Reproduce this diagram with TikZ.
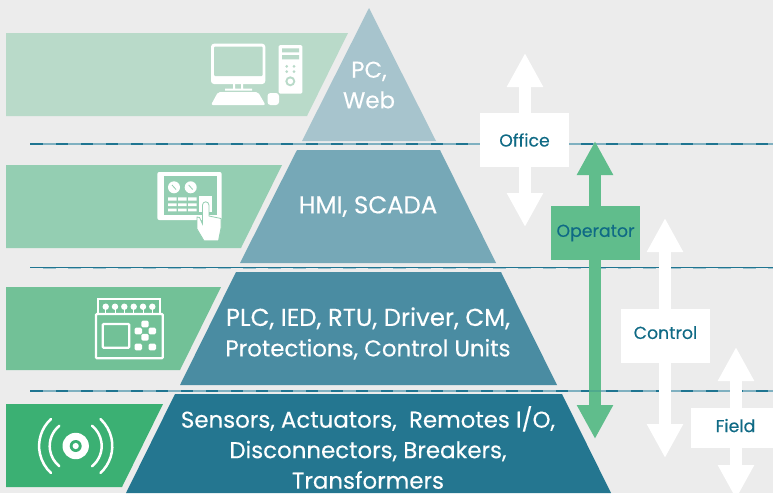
\documentclass[tikz,border=0pt]{standalone}
\usepackage{fontspec}
\usepackage{xcolor}
\usetikzlibrary{arrows.meta}
\setmainfont{Poppins}[FakeBold=0.25]
\definecolor{paper}{HTML}{ECECEC}
\definecolor{bandA}{HTML}{B9DAC9}
\definecolor{bandB}{HTML}{94CEB2}
\definecolor{bandC}{HTML}{72C197}
\definecolor{bandD}{HTML}{3BB073}
\definecolor{pyrA}{HTML}{A7C4CD}
\definecolor{pyrB}{HTML}{76A8B7}
\definecolor{pyrC}{HTML}{4A8CA2}
\definecolor{pyrD}{HTML}{247690}
\definecolor{lineDark}{HTML}{1F7591}
\definecolor{lineLight}{HTML}{7FB0C0}
\definecolor{opGreen}{HTML}{60BD8C}
\definecolor{tagText}{HTML}{0F6A85}
\newcommand{\capsline}[1]{{\fontsize{24.4}{30.5}\selectfont #1}}
\begin{document}
\begin{tikzpicture}[x=1pt,y=-1pt,
  level/.style={white,align=center,inner sep=0pt,font=\fontsize{22.9}{30.5}\selectfont},
  tag/.style={fill=white,text=tagText,minimum width=89pt,minimum height=54pt,inner sep=0pt,font=\fontsize{17.3}{20}\selectfont},
  updown/.style={line width=12pt,{Triangle[length=34pt,width=34pt]}-{Triangle[length=34pt,width=34pt]}}]
\useasboundingbox (0,0) rectangle (773,493);
\fill [paper] (0,0) rectangle (773,493);
\clip (0,0) rectangle (773,493);
% bands on the left
\fill [bandA] (6,33) -- (348,33) -- (307,116) -- (6,116) -- cycle;
\fill [bandB] (6,165) -- (282,165) -- (241,248) -- (6,248) -- cycle;
\fill [bandC] (6,287) -- (221,287) -- (180,370) -- (6,370) -- cycle;
\fill [bandD] (6,404) -- (163,404) -- (122,487) -- (6,487) -- cycle;
% pyramid
\fill [pyrA] (369,8) -- (436,141) -- (302,141) -- cycle;
\fill [pyrB] (297,150) -- (440,150) -- (496,263) -- (240,263) -- cycle;
\fill [pyrC] (236,272) -- (501,272) -- (557,385) -- (180,385) -- cycle;
\fill [pyrD] (175,394) -- (562,394) -- (611,493) -- (126,493) -- cycle;
% separators
\foreach \ypos in {144,391}{
  \draw [lineDark,line width=1.6pt] (30,\ypos) -- (773,\ypos);
  \draw [lineLight,line width=1.6pt,dash pattern=on 13pt off 12pt] (43,\ypos) -- (773,\ypos);
}
\draw [lineLight!70!paper,line width=1pt,dash pattern=on 13pt off 12pt] (43,268) -- (773,268);
\draw [lineDark,line width=1pt] (30,267) -- (773,267);
% level texts
\node [level] (pc) at (369,85) {PC,\\Web};
\node [level] (hmi) at (368,206.5) {\capsline{HMI, SCADA}};
\node [level] (plc) at (368,333.5) {\capsline{PLC, IED, RTU, Driver, CM,}\\Protections, Control Units};
\node [level] (sensors) at (368,447.5) {Sensors, Actuators,\ \ Remotes I/O,\\Disconnectors, Breakers,\\Transformers};
% arrows
\coordinate (officeT) at (525,53);
\coordinate (officeB) at (525,227);
\coordinate (operT) at (595,141);
\coordinate (operB) at (595,439);
\coordinate (controlT) at (665,218);
\coordinate (controlB) at (665,458);
\coordinate (fieldT) at (736,347);
\coordinate (fieldB) at (736,499);
\draw [updown,white] (officeT) -- (officeB);
\draw [updown,opGreen] (operT) -- (operB);
\draw [lineDark,opacity=0.25,line width=1.6pt] (589,391) -- (601,391);
\draw [updown,white] (controlT) -- (controlB);
\draw [updown,white] (fieldT) -- (fieldB);
\node [tag] (office) at (524.5,140) {Office};
\node [tag,fill=opGreen] (operator) at (595.5,233) {Operator};
\node [tag] (control) at (665.5,336) {\raisebox{7pt}{Control}};
\node [tag,minimum height=40pt] (field) at (735.5,428) {\raisebox{5pt}{Field}};
% computer icon
\fill [white,rounded corners=3pt] (211,43.7) rectangle (265.3,84);
\fill [bandA,rounded corners=1pt] (214,46.7) rectangle (262.7,76);
\fill [white] (233,84) rectangle (235,89) (241,84) rectangle (243,89) (225,88.5) rectangle (252,90.7);
\fill [white,rounded corners=2pt] (218,92) -- (258,92) -- (265.5,105) -- (211,105) -- cycle;
\fill [white,rounded corners=3pt] (267.5,93) rectangle (279,105);
\fill [white,rounded corners=1.5pt] (278.5,45) rectangle (302.3,93.7);
\fill [bandA] (282,48.3) rectangle (299,52.3) (282,55) rectangle (299,59.3);
\foreach \xpos/\ypos in {286.7/66.3,294/66.3,286.7/71.7,294/71.7}
  \fill [bandA] (\xpos,\ypos) circle (1.5);
\fill [bandA] (290.3,81.3) circle (5);
\fill [white] (290.3,81.3) circle (2.8);
% panel icon
\fill [white,rounded corners=2pt] (157.3,172) rectangle (221.7,220);
\fill [bandB] (164,176) rectangle (217,215.3);
\fill [white] (174,187.3) circle (6) (190.7,187.3) circle (6);
\draw [bandB,line width=0.8pt] (172,185) -- (176,189.5) (188.7,185) -- (192.7,189.5);
\foreach \ypos/\ytop in {197.3/200.7,203.3/206,208.7/211.3}
  \fill [white] (168,\ypos) rectangle (176.7,\ytop) (178,\ypos) rectangle (186.7,\ytop) (188,\ypos) rectangle (196.7,\ytop);
\fill [white] (199.3,196) rectangle (211.7,212);
\fill [white,draw=bandB,line width=0.8pt] (202.5,205) arc[start angle=180,end angle=0,radius=3.2pt] -- (208.9,216) -- (221,218.5) -- (221,228) -- (218.5,240.8) -- (204,240.8) -- (197,229) -- (197,217) -- (199.5,217.5) -- (202.5,224) -- cycle;
% controller icon
\draw [white,line width=2.2pt,rounded corners=1pt] (96,314) rectangle (162.7,358.3);
\draw [white,line width=2.2pt,rounded corners=1pt] (102.7,324) rectangle (129.3,347.7);
\draw [white,line width=2.2pt] (98.3,314) -- (98.3,299) -- (160,299) -- (160,314);
\foreach \xpos in {105.7,115,124.3,133.7,143,152.3}{
  \fill [white] (\xpos,306.7) circle (3.2);
  \draw [white,line width=1pt] (\xpos,306.7) -- (\xpos,314);
}
\foreach \xpos/\ypos in {145/324,138.3/331,152.3/331,145/337.3,138.3/347,152.3/347}
  \fill [white,rounded corners=1.5pt] (\xpos-3.7,\ypos-3.4) rectangle (\xpos+3.7,\ypos+3.4);
% sensor icon
\coordinate (sensor) at (75.7,446);
\fill [white] (sensor) circle (13.2);
\fill [bandD] (sensor) circle (6);
\fill [white] (sensor) circle (3.1);
\foreach \rad/\ang in {26/51,36.6/47.5}{
  \draw [white,line width=2.5pt,line cap=round] ([shift={(180-\ang:\rad pt)}]sensor) arc[start angle=180-\ang,end angle=180+\ang,radius=\rad pt];
  \draw [white,line width=2.5pt,line cap=round] ([shift={(-\ang:\rad pt)}]sensor) arc[start angle=-\ang,end angle=\ang,radius=\rad pt];
}
\end{tikzpicture}
\end{document}
